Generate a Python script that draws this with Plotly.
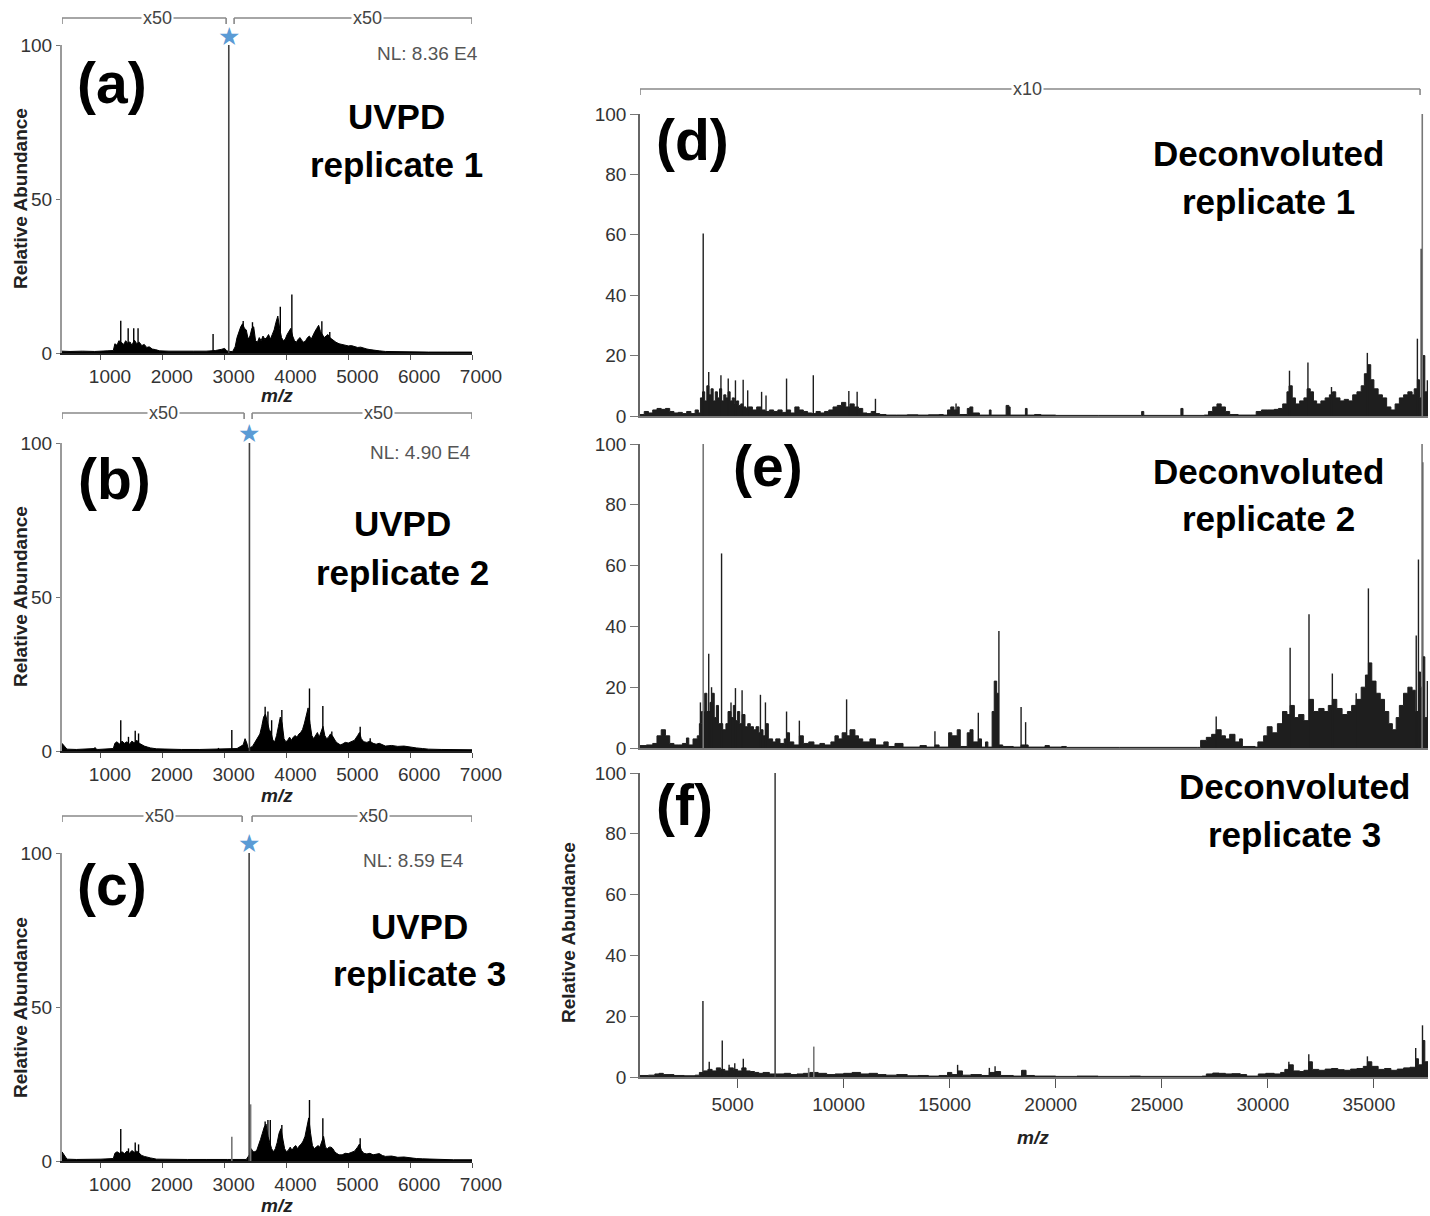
import plotly.graph_objects as go

W, H = 1430, 1216

# ---------------- DATA ----------------
# Panel (a) UVPD replicate 1: profile envelope
a_mz = [370, 500, 700, 900, 1100, 1200, 1225, 1260, 1290, 1330, 1370, 1400, 1430, 1470, 1500, 1540, 1580, 1620, 1660, 1700,
        1740, 1780, 1830, 1880, 1950, 2100, 2300, 2500, 2700, 2850, 2950, 3000, 3030, 3060, 3130, 3170, 3200, 3230, 3260, 3290,
        3320, 3350, 3380, 3410, 3440, 3470, 3500, 3530, 3560, 3590, 3620, 3650, 3680, 3710, 3740, 3770, 3800, 3830, 3860, 3890,
        3920, 3950, 3980, 4010, 4040, 4070, 4100, 4130, 4160, 4190, 4220, 4250, 4280, 4310, 4340, 4370, 4400, 4430, 4460, 4490,
        4520, 4550, 4580, 4610, 4640, 4670, 4700, 4730, 4760, 4800, 4850, 4900, 4950, 5000, 5050, 5100, 5150, 5200, 5250, 5300,
        5350, 5400, 5500, 5600, 5800, 6000, 6300, 6600, 7000]
a_ab = [0.6, 0.5, 0.6, 0.5, 0.7, 0.8, 3, 2.5, 4, 3.5, 2.8, 4, 3.2, 3.6, 2.5, 4.2, 3, 3.5, 2.4, 2.8,
        1.8, 2, 1.3, 1.1, 0.7, 0.6, 0.5, 0.6, 0.6, 0.8, 1.2, 1.5, 0.8, 0.5, 0.5, 2, 5, 7, 8.5, 9.5,
        8, 7.5, 4.5, 5.5, 8, 8.5, 4, 3.5, 5, 4, 5.5, 4.5, 5, 6, 4.5, 6, 7.5, 10, 12, 8,
        5, 4, 4.5, 6, 7, 8, 5.5, 4, 3.5, 4.5, 5, 4, 3.5, 4, 5, 5.5, 4.5, 6, 7, 8,
        9, 7, 6, 5, 5.5, 6, 5, 4.5, 4, 3.5, 3, 2.8, 2.6, 2.3, 2.4, 2, 1.8, 1.9, 1.5, 1.3,
        1.1, 0.9, 0.7, 0.5, 0.4, 0.4, 0.3, 0.3, 0.3]
a_peak_mz = [1320, 1440, 1530, 1600, 2813, 3300, 3450, 3900, 4087, 4572, 4700]
a_peak_ab = [10.5, 8, 8, 8, 6.2, 10.4, 10, 15, 19, 10.3, 6.8]
a_base_mz, a_base_ab = 3067, 100

# Panel (b) UVPD replicate 2
b_mz = [370, 400, 450, 600, 800, 900, 950, 1100, 1200, 1225, 1260, 1300, 1340, 1380, 1420, 1460, 1500, 1540, 1580, 1620,
        1660, 1700, 1750, 1800, 1900, 2100, 2300, 2600, 2800, 2900, 3050, 3200, 3300, 3330, 3360, 3380, 3450, 3480, 3510, 3540,
        3570, 3600, 3630, 3660, 3690, 3720, 3750, 3780, 3810, 3840, 3870, 3900, 3930, 3960, 3990, 4020, 4050, 4080, 4110, 4140,
        4170, 4200, 4230, 4260, 4290, 4320, 4350, 4380, 4410, 4440, 4470, 4500, 4530, 4560, 4590, 4620, 4650, 4680, 4710, 4740,
        4770, 4800, 4830, 4870, 4900, 4950, 5000, 5050, 5100, 5150, 5180, 5210, 5250, 5300, 5350, 5400, 5450, 5500, 5550, 5600,
        5700, 5800, 5900, 6000, 6100, 6200, 6300, 6500, 6700, 7000]
b_ab = [2.5, 1.8, 0.6, 0.5, 0.6, 0.8, 0.5, 0.6, 0.8, 2.5, 3, 2.2, 3.2, 2.5, 3, 2.2, 3.2, 2.6, 3.5, 2.5,
        2, 1.6, 1.3, 1, 0.7, 0.5, 0.5, 0.5, 0.6, 0.5, 0.6, 0.8, 2, 4, 2.5, 0.8, 1.5, 2.5, 3.5, 4.5,
        5.5, 8, 11, 12, 9, 7, 6, 3.5, 3, 5, 8, 11, 9, 4, 3, 3.5, 4.5, 3.5, 4.5, 5,
        4.5, 5.5, 6, 7, 9, 12, 14, 9, 5, 4, 5, 6, 4.5, 6, 8, 5, 4, 4.5, 5.5, 5,
        4, 3, 2.5, 2, 2.2, 2.8, 2.6, 3, 3.5, 5, 6, 4, 3, 2.8, 3.2, 2.5, 2.2, 2.5, 2, 1.6,
        1.8, 1.5, 1.6, 1.2, 1, 0.8, 0.6, 0.5, 0.5, 0.4]
b_peak_mz = [904, 1320, 1445, 1554, 1608, 2900, 3116, 3655, 3700, 3760, 3925, 4302, 4372, 4588, 4733, 5192, 5354]
b_peak_ab = [1.2, 10, 4.6, 6.6, 5.7, 1, 6.8, 14.4, 12.8, 10, 13.3, 9, 20.3, 14.6, 6.3, 7.9, 4.1]
b_base_mz, b_base_ab = 3401, 100

# Panel (c) UVPD replicate 3
c_mz = [370, 400, 450, 600, 800, 1000, 1200, 1225, 1260, 1300, 1340, 1380, 1420, 1460, 1500, 1540, 1580, 1620, 1660, 1700,
        1750, 1800, 1900, 2100, 2400, 2700, 2900, 3050, 3200, 3350, 3400, 3430, 3460, 3490, 3520, 3550, 3580, 3610, 3640, 3670,
        3700, 3730, 3760, 3790, 3820, 3850, 3880, 3910, 3940, 3970, 4000, 4030, 4060, 4090, 4120, 4150, 4180, 4210, 4240, 4270,
        4300, 4330, 4360, 4390, 4420, 4450, 4480, 4510, 4540, 4570, 4600, 4630, 4660, 4690, 4720, 4750, 4780, 4810, 4850, 4900,
        4950, 5000, 5050, 5100, 5150, 5180, 5210, 5250, 5300, 5350, 5400, 5450, 5500, 5550, 5600, 5700, 5800, 5900, 6000, 6100,
        6200, 6400, 6700, 7000]
c_ab = [3, 2, 0.6, 0.5, 0.5, 0.6, 0.8, 2.5, 3, 2.5, 3, 2.4, 3.2, 2.5, 3.4, 2.8, 3.2, 2.5, 1.8, 1.5,
        1.2, 1, 0.6, 0.5, 0.5, 0.5, 0.6, 0.5, 0.5, 0.5, 2, 4, 3, 3, 3.5, 5, 7, 9, 11, 12,
        8, 6, 4, 3, 4, 6, 9, 10.5, 7, 4, 3, 3.5, 4.5, 3.5, 4.5, 5, 4, 5, 5.5, 6.5,
        8, 11, 14, 9, 5, 4, 4.5, 5, 4.5, 6, 8, 4.5, 4, 4.5, 4.5, 4, 3, 2.5, 2, 2,
        2.5, 2.4, 2.8, 3.2, 4.5, 5.5, 3.5, 2.5, 2.3, 2.5, 2, 2.2, 2.4, 1.8, 1.5, 1.6, 1.2, 1.3, 1, 0.8,
        0.7, 0.5, 0.4, 0.4]
c_peak_mz = [1320, 1445, 1554, 1608, 3655, 3700, 3738, 3925, 4372, 4588, 5192]
c_peak_ab = [10.4, 4.1, 6, 5.4, 12.8, 13.3, 13.3, 11.7, 19.8, 13.9, 7.4]
c_grey_mz = [3116, 3420]
c_grey_ab = [7.9, 18.4]
c_base_mz, c_base_ab = 3396, 100

# Panel (d) Deconvoluted replicate 1 (x10 over the whole range)
d_mz = [400, 600, 800, 1000, 1200, 1400, 1600, 1800, 2000, 2200, 2400, 2600, 2800, 3000, 3150, 3250, 3350, 3450, 3550, 3650,
        3750, 3850, 3950, 4050, 4150, 4250, 4350, 4450, 4550, 4650, 4750, 4850, 4950, 5050, 5150, 5250, 5400, 5500, 5700, 5900,
        6100, 6300, 6500, 6700, 6900, 7100, 7300, 7500, 7700, 7900, 8100, 8300, 8500, 8700, 8900, 9100, 9300, 9500, 9700, 9900,
        10100, 10300, 10500, 10700, 10900, 11100, 11300, 11500, 11700, 12000, 12500, 13000, 13500, 14000, 14500, 14700, 14900, 15050, 15200, 15350,
        15450, 15830, 15950, 16090, 16400, 16870, 16950, 17660, 17790, 17850, 18570, 18650, 19000, 19300, 20000, 22000, 24050, 24150, 25900, 26000,
        27000, 27200, 27400, 27600, 27800, 28000, 28200, 28600, 29200, 29450, 29700, 30000, 30300, 30500, 30700, 30900, 31000, 31150, 31300, 31500,
        31700, 31850, 32000, 32150, 32300, 32500, 32700, 32900, 33050, 33200, 33400, 33600, 33800, 34000, 34200, 34400, 34550, 34700, 34850, 35000,
        35200, 35400, 35600, 35800, 36000, 36200, 36400, 36600, 36800, 36900, 37050, 37150, 37300, 37400, 37550]
d_ab = [0.5, 1.5, 1, 2, 2.5, 2.2, 2.5, 1.5, 1, 1.2, 0.8, 1.5, 0.8, 2, 1, 6, 8, 5, 10, 7,
        9, 5, 8, 6, 9, 5, 7, 6, 8, 5, 6, 4, 5, 3.5, 4, 3, 2.5, 3, 2, 3,
        2, 1.5, 2, 1.5, 2, 1.2, 2, 1, 3, 2, 1.5, 1, 0.8, 1.5, 1, 1.5, 2, 3, 3.5, 4.5,
        3, 4, 3, 2.5, 1, 0.8, 1.5, 0.8, 0.5, 0.3, 0.3, 0.4, 0.3, 0.4, 0.5, 0.3, 2, 3, 2, 3,
        0.5, 2.5, 3, 1, 0.3, 2, 0.3, 3.5, 3, 0.3, 2.5, 0.3, 0.5, 0.3, 0.2, 0.2, 1.5, 0.2, 2.5, 0.2,
        0.3, 1.5, 3, 4, 3, 1.5, 0.5, 0.3, 0.3, 1.5, 2, 2, 2.2, 2.5, 4, 8, 10, 6, 4, 5,
        6, 9, 8, 5, 4, 5, 6, 7, 8, 6, 5, 5.5, 5, 7, 8, 10, 14, 17, 12, 9,
        7, 6, 3, 2, 4, 6, 7, 8, 7, 9, 12, 6, 20, 8, 5]
d_peak_mz = [3380, 3640, 4216, 4560, 4900, 5264, 5477, 6133, 6341, 7309, 8570, 10245, 10637, 11500, 15300,
             31020, 31890, 33000, 34690, 37050, 37230, 37520]
d_peak_ab = [60.4, 14.6, 13.5, 12.4, 11.8, 12, 8.5, 8, 6.8, 12.4, 13.5, 8.3, 8, 5.7, 4.1,
             15, 17.7, 9.6, 20.9, 25.6, 55.4, 11.8]
d_grey_mz = [37280]
d_grey_ab = [100]

# Panel (e) Deconvoluted replicate 2
e_mz = [400, 700, 1000, 1200, 1400, 1600, 1800, 2000, 2200, 2400, 2590, 2700, 2900, 3100, 3200, 3300, 3450, 3550, 3700, 3800,
        3900, 4000, 4100, 4300, 4450, 4550, 4690, 4800, 4900, 5000, 5100, 5213, 5350, 5477, 5600, 5750, 5870, 6000, 6078, 6200,
        6314, 6450, 6653, 6800, 7000, 7200, 7309, 7450, 7650, 7913, 8100, 8357, 8600, 8881, 9100, 9400, 9590, 9750, 9930, 10140,
        10300, 10533, 10700, 10900, 11240, 11500, 11895, 12100, 12420, 12800, 13600, 13900, 14305, 14500, 14950, 15100, 15354, 15500, 15826, 15958,
        16100, 16350, 16500, 16690, 16800, 17000, 17100, 17215, 17300, 17500, 18000, 18366, 18580, 18700, 19495, 19700, 20280, 20500, 23000, 26000,
        26700, 26830, 27100, 27350, 27565, 27800, 28000, 28200, 28450, 28665, 28800, 29400, 29530, 29800, 29970, 30200, 30450, 30700, 30900, 31050,
        31250, 31450, 31700, 31940, 32150, 32400, 32650, 32850, 33040, 33250, 33500, 33750, 33950, 34165, 34400, 34600, 34740, 34900, 35100, 35300,
        35500, 35700, 35870, 36050, 36200, 36395, 36600, 36800, 36950, 37100, 37200, 37285, 37400, 37550]
e_ab = [0.8, 1, 1.5, 4, 6, 4, 1.5, 1, 1, 1.5, 3.3, 1, 3, 4, 8, 12, 18, 12, 15, 18,
        10, 14, 8, 6, 8, 12, 10, 14, 9, 12, 8, 11, 7, 8, 7, 6, 7, 5, 6, 4,
        8, 3, 2, 3, 1.5, 3, 5, 2, 1, 4, 1.5, 2, 1, 1.5, 1, 2, 4, 3, 5, 4,
        6, 4, 3, 2, 3, 1, 2, 0.5, 1.5, 0.3, 0.8, 0.3, 1, 0.3, 5, 4, 6, 0.5, 5, 6,
        2, 3, 0.3, 2, 0.3, 12, 22, 18, 1, 0.5, 0.3, 1, 1, 0.3, 0.8, 0.3, 0.5, 0.2, 0.2, 0.2,
        0.2, 2.5, 3.5, 4.5, 6, 4, 3, 4.5, 2, 3, 0.5, 0.3, 2, 4, 7, 5, 8, 12, 11, 14,
        10, 11, 9, 16, 12, 13, 12, 14, 16, 13, 11, 12, 14, 16, 20, 24, 28, 22, 18, 16,
        12, 8, 6, 10, 14, 18, 20, 19, 12, 25, 20, 30, 10, 22]
e_peak_mz = [3248, 3640, 3773, 4245, 4690, 4900, 5213, 6078, 6314, 7309, 7913, 10140, 14305, 16350, 17320, 18366, 18580,
             27565, 30700, 31050, 31940, 33040, 34165, 34740, 36995, 37100, 37300, 37520]
e_peak_ab = [15, 31, 20, 64, 15, 19.7, 19, 17.5, 15, 12, 9, 16, 5.5, 11.6, 38.5, 13.5, 8.5,
             10.4, 12, 33, 44, 24.5, 18, 52.5, 37, 62, 94, 22]
e_grey_mz = [3380, 37270]
e_grey_ab = [100, 100]

# Panel (f) Deconvoluted replicate 3
f_mz = [400, 800, 1100, 1300, 1500, 2000, 2500, 3000, 3200, 3400, 3600, 3800, 4000, 4200, 4400, 4600, 4800, 5000, 5200, 5400,
        5600, 5800, 6000, 6200, 6500, 6900, 7200, 7500, 7800, 8100, 8400, 8800, 9200, 9600, 10000, 10400, 10800, 11200, 11600, 12000,
        12500, 13000, 13500, 14000, 14500, 14900, 15100, 15373, 15600, 16000, 16500, 16870, 17140, 17400, 18000, 18400, 18600, 19000, 20000, 21000,
        22000, 23490, 24000, 26000, 26900, 27100, 27400, 27700, 28000, 28300, 28700, 29000, 29400, 29550, 29900, 30300, 30600, 30800, 30990, 31200,
        31500, 31700, 31930, 32100, 32400, 32700, 33000, 33300, 33600, 33900, 34200, 34500, 34693, 34900, 35200, 35500, 35800, 36100, 36400, 36700,
        36970, 37100, 37290, 37400, 37550]
f_ab = [0.5, 0.6, 1, 1.2, 0.8, 0.5, 0.4, 0.6, 1.5, 2, 2.5, 2, 3, 2.5, 2, 3, 2.5, 2, 3, 2,
        1.8, 1.5, 1.2, 1.5, 1, 1, 1.2, 0.8, 1, 1.2, 1.5, 1.2, 0.8, 1, 1.2, 1.5, 1, 1.2, 0.8, 0.6,
        0.8, 0.4, 0.5, 0.3, 0.5, 1.5, 0.8, 2, 0.6, 0.8, 0.5, 1.5, 1.8, 0.5, 0.3, 2.2, 0.5, 0.3, 0.2, 0.3,
        0.2, 0.3, 0.2, 0.2, 0.3, 1, 1.3, 1.2, 1, 1.1, 0.8, 0.3, 0.3, 1, 1.2, 1, 1.5, 2.5, 4, 2,
        1.8, 2.2, 5, 2.5, 2.2, 2.6, 2.8, 2.4, 2.2, 2.6, 2.8, 3.5, 5, 3.5, 2.5, 2.8, 2.2, 2.6, 3, 3.2,
        6, 4, 12, 5, 3]
f_peak_mz = [3367, 3664, 4278, 4600, 4868, 5270, 15373, 16870, 17140, 18400, 30990, 31930, 34693, 36970, 37290, 37500]
f_peak_ab = [25, 5, 12, 4, 4.5, 6, 4, 3, 3.5, 2.2, 5, 7.5, 6.8, 9.5, 17, 5]
f_grey_mz = [8352, 8593]
f_grey_ab = [3, 10]
f_base_mz, f_base_ab = 6770, 100

# Text content
panel_tags = ["(a)", "(b)", "(c)", "(d)", "(e)", "(f)"]
panel_titles = [("UVPD", "replicate 1"), ("UVPD", "replicate 2"), ("UVPD", "replicate 3"),
                ("Deconvoluted", "replicate 1"), ("Deconvoluted", "replicate 2"), ("Deconvoluted", "replicate 3")]
nl_labels = ["NL: 8.36 E4", "NL: 4.90 E4", "NL: 8.59 E4"]
left_ticks = [1000, 2000, 3000, 4000, 5000, 6000, 7000]
right_ticks = [5000, 10000, 15000, 20000, 25000, 30000, 35000]
star_ab = [102.6, 103.2, 103.2]
# magnification brackets: (start m/z, end m/z, label m/z, label)
brackets_a = [(370, 3024, 1907, "x50"), (3153, 7000, 5305, "x50")]
brackets_b = [(370, 3315, 2004, "x50"), (3444, 7000, 5483, "x50")]
brackets_c = [(370, 3283, 1940, "x50"), (3444, 7000, 5402, "x50")]
brackets_d = [(400, 37175, 18660, "x10")]

# ---------------- LAYOUT GEOMETRY (pixels) ----------------
FONT = "'Liberation Sans', Arial, sans-serif"
Y_MAX = 100

boxes = [  # x0, x1, ytop(100), ybottom(0)
    (62, 472, 45, 353),
    (62, 472, 443, 751),
    (62, 472, 853, 1161),
    (640, 1428, 114, 416),
    (640, 1428, 444, 748),
    (640, 1428, 773, 1077),
]
xranges = [[370, 7000]] * 3 + [[400, 37550]] * 3


def fx(p):
    return p / W


def fy(p):
    return 1 - p / H


fig = go.Figure()
layout_axes = {}
for i, (x0, x1, yt, yb) in enumerate(boxes):
    n = i + 1
    xa = "xaxis" if n == 1 else f"xaxis{n}"
    ya = "yaxis" if n == 1 else f"yaxis{n}"
    left = i < 3
    show_xlabels = left or i == 5
    tv = (left_ticks if left else right_ticks) if show_xlabels else []
    layout_axes[xa] = dict(
        domain=[fx(x0), fx(x1)], range=xranges[i], anchor=f"y{n}" if n > 1 else "y",
        automargin=False, showgrid=False, zeroline=False, showline=True,
        linecolor="#222" if left else "#777", linewidth=1.5,
        tickmode="array", tickvals=tv, ticktext=[str(v) for v in tv],
        ticks="outside" if show_xlabels else "", ticklen=5 if left else 9, tickcolor="#555",
        showticklabels=show_xlabels,
        tickfont=dict(family=FONT, size=19, color="#333"),
        ticklabelshift=9 if left else -5,
    )
    layout_axes[ya] = dict(
        domain=[fy(yb), fy(yt)], range=[0, Y_MAX], anchor=f"x{n}" if n > 1 else "x",
        automargin=False, showgrid=False, zeroline=False, showline=True,
        linecolor="#9a9a9a" if left else "#666", linewidth=2 if left else 1.5,
        tickmode="array", tickvals=[0, 50, 100] if left else [0, 20, 40, 60, 80, 100],
        ticks="outside", ticklen=4 if left else 8, tickcolor="#777",
        tickfont=dict(family=FONT, size=19, color="#333"),
    )


def sticks(mz, ab):
    xs, ys = [], []
    for m, a in zip(mz, ab):
        xs += [m, m, None]
        ys += [0, a, None]
    return xs, ys


def add_panel(n, env_mz, env_ab, pk_mz, pk_ab, grey_mz=None, grey_ab=None, base=None,
              fillc="black", shape="linear"):
    xr = "x" if n == 1 else f"x{n}"
    yr = "y" if n == 1 else f"y{n}"
    fig.add_trace(go.Scatter(x=env_mz, y=env_ab, mode="lines", line=dict(color=fillc, width=1, shape=shape),
                             fill="tozeroy", fillcolor=fillc, xaxis=xr, yaxis=yr, hoverinfo="skip"))
    sx, sy = sticks(pk_mz, pk_ab)
    fig.add_trace(go.Scatter(x=sx, y=sy, mode="lines", line=dict(color=fillc, width=1.4),
                             xaxis=xr, yaxis=yr, hoverinfo="skip"))
    if grey_mz:
        gx, gy = sticks(grey_mz, grey_ab)
        fig.add_trace(go.Scatter(x=gx, y=gy, mode="lines", line=dict(color="#777", width=1.6),
                                 xaxis=xr, yaxis=yr, hoverinfo="skip"))
    if base:
        bx, by = sticks([base[0]], [base[1]])
        fig.add_trace(go.Scatter(x=bx, y=by, mode="lines", line=dict(color="#444", width=1.6),
                                 xaxis=xr, yaxis=yr, hoverinfo="skip"))


add_panel(1, a_mz, a_ab, a_peak_mz, a_peak_ab, base=(a_base_mz, a_base_ab))
add_panel(2, b_mz, b_ab, b_peak_mz, b_peak_ab, base=(b_base_mz, b_base_ab))
add_panel(3, c_mz, c_ab, c_peak_mz, c_peak_ab, c_grey_mz, c_grey_ab, base=(c_base_mz, c_base_ab))
add_panel(4, d_mz, d_ab, d_peak_mz, d_peak_ab, d_grey_mz, d_grey_ab, fillc="#1e1e1e", shape="hv")
add_panel(5, e_mz, e_ab, e_peak_mz, e_peak_ab, e_grey_mz, e_grey_ab, fillc="#1e1e1e", shape="hv")
add_panel(6, f_mz, f_ab, f_peak_mz, f_peak_ab, f_grey_mz, f_grey_ab, base=(f_base_mz, f_base_ab),
          fillc="#1e1e1e", shape="hv")

annotations = []
shapes = []

# stars above the precursor peaks (y given in the axis' domain fraction = value / y-range)
for n, (m, yv) in enumerate(zip([a_base_mz, b_base_mz, c_base_mz], star_ab), start=1):
    annotations.append(dict(text="\u2605", x=m, y=yv / Y_MAX, xref="x" if n == 1 else f"x{n}",
                            yref="y domain" if n == 1 else f"y{n} domain", showarrow=False,
                            xanchor="center", yanchor="middle",
                            font=dict(family="DejaVu Sans", size=25, color="#5b9bd5")))


def txt(text, x, y, size, color="#111", xanchor="center", angle=0):
    annotations.append(dict(text=text, x=fx(x), y=fy(y), xref="paper", yref="paper",
                            xanchor=xanchor, yanchor="middle", showarrow=False, textangle=angle,
                            font=dict(family=FONT, size=size, color=color)))


tag_pos = [(112, 83), (114, 479), (112, 885), (692, 140), (768, 466), (684, 805)]
for t, (x, y) in zip(panel_tags, tag_pos):
    txt(f"<b>{t}</b>", x, y, 57, "#000")

title_pos = [(396, 117, 165), (402, 523, 572), (419, 926, 973), (1268, 153, 201), (1268, 471, 519), (1294, 786, 834)]
for (l1, l2), (x, y1, y2) in zip(panel_titles, title_pos):
    txt(f"<b>{l1}</b>", x, y1, 35, "#000")
    txt(f"<b>{l2}</b>", x, y2, 35, "#000")

for t, (x, y) in zip(nl_labels, [(427, 53), (420, 452), (413, 860)]):
    txt(t, x, y, 19, "#555")

for y in [199, 597, 1008]:
    txt("<b>Relative Abundance</b>", 20, y, 19, "#222", angle=-90)
txt("<b>Relative Abundance</b>", 568, 933, 19, "#222", angle=-90)

for (x, y) in [(277, 396), (277, 795), (277, 1205), (1033, 1137)]:
    txt("<b><i>m/z</i></b>", x, y, 19, "#222")

# magnification brackets
for ax, (brs, ypx) in zip([1, 2, 3, 4], [(brackets_a, 18), (brackets_b, 413), (brackets_c, 816), (brackets_d, 89)]):
    xr = "x" if ax == 1 else f"x{ax}"
    for (m0, m1, ml, lab) in brs:
        yl = fy(ypx)
        ytick = fy(ypx + 6)
        shapes.append(dict(type="line", xref=xr, yref="paper", x0=m0, x1=m1, y0=yl, y1=yl,
                           line=dict(color="#888", width=1.6)))
        for mm in (m0, m1):
            shapes.append(dict(type="line", xref=xr, yref="paper", x0=mm, x1=mm, y0=yl, y1=ytick,
                               line=dict(color="#888", width=1.6)))
        annotations.append(dict(text=lab, x=ml, y=yl, xref=xr, yref="paper", showarrow=False,
                                xanchor="center", yanchor="middle", bgcolor="white", borderpad=1,
                                font=dict(family=FONT, size=18, color="#444")))

fig.update_layout(
    width=W, height=H, margin=dict(l=0, r=0, t=0, b=0, autoexpand=False),
    paper_bgcolor="white", plot_bgcolor="white", showlegend=False,
    annotations=annotations, shapes=shapes, **layout_axes,
)

fig.write_html("out.html")
